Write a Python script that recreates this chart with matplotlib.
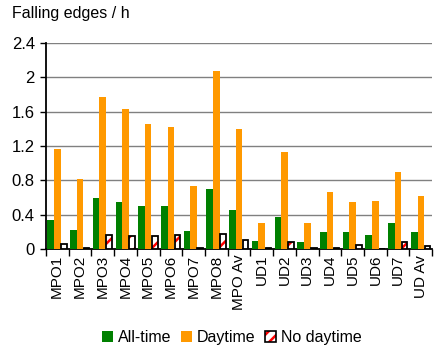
import numpy as np
import matplotlib

matplotlib.use("Agg")
import matplotlib.pyplot as plt
from matplotlib.patches import Patch
from matplotlib.legend_handler import HandlerTuple

categories = ["MPO1", "MPO2", "MPO3", "MPO4", "MPO5", "MPO6", "MPO7", "MPO8", "MPO Av",
              "UD1", "UD2", "UD3", "UD4", "UD5", "UD6", "UD7", "UD Av"]
all_time = [0.34, 0.22, 0.60, 0.545, 0.50, 0.50, 0.21, 0.70, 0.45,
            0.09, 0.37, 0.08, 0.20, 0.20, 0.16, 0.31, 0.20]
daytime = [1.17, 0.82, 1.77, 1.63, 1.46, 1.42, 0.73, 2.08, 1.40,
           0.31, 1.13, 0.30, 0.66, 0.55, 0.565, 0.90, 0.62]
no_daytime = [0.055, 0.01, 0.17, 0.155, 0.155, 0.17, 0.01, 0.18, 0.11,
              0.01, 0.085, 0.01, 0.01, 0.054, 0.005, 0.085, 0.04]
y_ticks = [0, 0.4, 0.8, 1.2, 1.6, 2.0, 2.4]
y_tick_labels = ["0", "0.4", "0.8", "1.2", "1.6", "2", "2.4"]

GREEN = "#008000"
ORANGE = "#FF9900"
plt.rcParams["font.family"] = ["Liberation Sans", "DejaVu Sans"]
plt.rcParams["hatch.linewidth"] = 1.8
plt.rcParams["hatch.color"] = "red"

fig = plt.figure(figsize=(4.37, 3.47), dpi=100)
ax = fig.add_axes([0.105, 0.282, 0.884, 0.594])

x = np.arange(len(categories))
w = 0.29
ax.bar(x - w, all_time, w, color=GREEN, zorder=3)
ax.bar(x, daytime, w, color=ORANGE, zorder=3)
# hatched fill first, then a black outline on top
ax.bar(x + w, no_daytime, w * 0.85, facecolor="white", edgecolor="red",
       hatch="//", linewidth=0, zorder=3)
ax.bar(x + w, no_daytime, w * 0.85, fill=False, edgecolor="black",
       linewidth=1.3, zorder=4)

ax.set_xlim(-0.5, len(categories) - 0.5)
ax.set_ylim(0, 2.4)
ax.set_yticks(y_ticks)
ax.set_yticklabels(y_tick_labels, fontsize=12)
ax.yaxis.grid(True, color="#808080", linewidth=1.0, zorder=0)
ax.set_axisbelow(True)

ax.set_xticks(x)
ax.set_xticklabels(categories, rotation=90, fontsize=11)
ax.tick_params(axis="x", length=0, pad=4)
ax.set_xticks(np.arange(-0.5, len(categories)), minor=True)
ax.tick_params(axis="x", which="minor", length=5, width=1, color="black")
ax.tick_params(axis="y", length=4, width=1, pad=4)

for s in ("top", "right"):
    ax.spines[s].set_visible(False)
ax.spines["left"].set_linewidth(1.3)
ax.spines["bottom"].set_linewidth(1.3)

fig.text(0.027, 0.96, "Falling edges / h", fontsize=11.5, ha="left", va="center")

nd_fill = Patch(facecolor="white", edgecolor="red", hatch="///", linewidth=0)
nd_edge = Patch(fill=False, edgecolor="black", linewidth=1.2)
handles = [Patch(facecolor=GREEN), Patch(facecolor=ORANGE), (nd_fill, nd_edge)]
fig.legend(handles, ["All-time", "Daytime", "No daytime"], loc="center",
           bbox_to_anchor=(0.53, 0.028), ncol=3, frameon=False, fontsize=11.5,
           handlelength=0.7, handleheight=0.7, handletextpad=0.3,
           columnspacing=0.6, handler_map={tuple: HandlerTuple(ndivide=1)})

fig.savefig("out.png", dpi=100)
